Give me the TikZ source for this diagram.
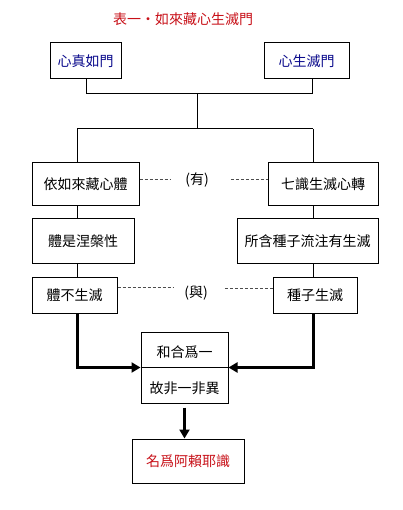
\documentclass[tikz,border=0pt]{standalone}
\usepackage{fontspec}
\setmainfont{Noto Sans CJK TC}
\usetikzlibrary{arrows.meta}
\definecolor{titlered}{RGB}{200,16,24}
\definecolor{navytext}{RGB}{10,10,140}
\tikzset{
  box/.style={draw, line width=1pt, inner sep=0pt, font=\fontsize{14}{15}\selectfont},
  conn/.style={line width=1pt},
  dashline/.style={line width=1pt, draw=black!70, dash pattern=on 3pt off 2pt},
  bigarrow/.style={line width=3pt, -{Triangle[length=9pt,width=10pt]}},
  lbl/.style={inner sep=0pt, font=\fontsize{14}{15}\selectfont}
}
\begin{document}
\begin{tikzpicture}[x=1pt,y=-1pt]
\useasboundingbox[fill=white] (0,0) rectangle (402,510);
\node[lbl, text=titlered] (title) at (183,19) {表一・如來藏心生滅門};
\node[box, text=navytext, minimum width=71pt, minimum height=36pt] (m1) at (85.5,61) {心真如門};
\node[box, text=navytext, minimum width=85pt, minimum height=36pt] (m2) at (306.5,61) {心生滅門};
\node[box, minimum width=107pt, minimum height=43pt] (a1) at (85.5,184.5) {依如來藏心體};
\node[box, minimum width=110pt, minimum height=43pt] (a2) at (323,184.5) {七識生滅心轉};
\node[box, minimum width=102pt, minimum height=44pt] (b1) at (83,241) {體是涅槃性};
\node[box, minimum width=141pt, minimum height=44pt] (b2) at (307.5,241) {所含種子流注有生滅};
\node[box, minimum width=85pt, minimum height=36pt] (c1) at (74.5,295) {體不生滅};
\node[box, minimum width=84pt, minimum height=36pt] (c2) at (315,295) {種子生滅};
\node[box, minimum width=87pt, minimum height=71pt] (d) at (184.5,367.5) {};
\node[lbl] (d1) at (184.5,352) {和合爲一};
\node[lbl] (d2) at (184.5,388) {故非一非異};
\node[box, text=titlered, minimum width=112pt, minimum height=44pt] (e) at (188,461) {名爲阿賴耶識};
\node[lbl] (you) at (197,180) {(有)};
\node[lbl] (yu) at (196,293) {(與)};
% coordinates
\coordinate (j1) at (86,94);
\coordinate (j2) at (312,94);
\coordinate (jc) at (197,94);
\coordinate (jd) at (197,129);
\coordinate (cl) at (77,129);
\coordinate (cr) at (313,129);
% tree connectors
\draw[conn] (m1.south -| j1) -- (j1) -- (j2) -- (m2.south -| j2);
\draw[conn] (jc) -- (jd);
\draw[conn] (cl) -- (cr);
\draw[conn] (cl) -- (a1.north -| cl);
\draw[conn] (cr) -- (a2.north -| cr);
\draw[conn] (a1.south -| cl) -- (b1.north -| cl);
\draw[conn] (a2.south -| cr) -- (b2.north -| cr);
\draw[conn] (b1.south -| cl) -- (c1.north -| cl);
\draw[conn] (b2.south -| cr) -- (c2.north -| cr);
% dashed relations
\draw[dashline, shorten >=14pt] ([yshift=5pt]a1.east) -- ([yshift=5pt]a1.east -| you.west);
\draw[dashline, shorten <=22pt] ([yshift=5pt]a2.west -| you.east) -- ([yshift=5pt]a2.west);
\draw[dashline, shorten >=11pt] ([yshift=8pt]c1.east) -- ([yshift=8pt]c1.east -| yu.west);
\draw[dashline, shorten <=17pt] ([yshift=7pt]c2.west -| yu.east) -- ([yshift=7pt]c2.west);
% thick arrows
\draw[bigarrow] (c1.south -| cl) |- (d.west);
\draw[bigarrow] (c2.south -| cr) |- (d.east);
\draw[bigarrow, shorten <=4pt] (d.south) -- (d.south |- e.north);
\draw[conn] (d.west) -- (d.east);
\end{tikzpicture}
\end{document}
